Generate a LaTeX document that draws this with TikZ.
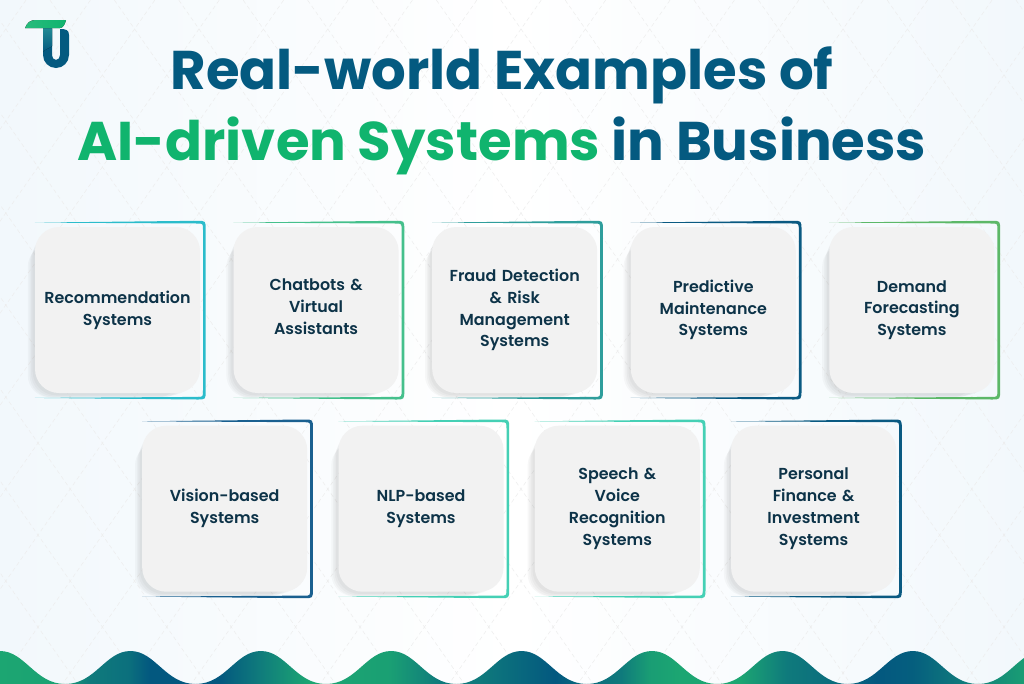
\documentclass[tikz,border=0pt]{standalone}
\usepackage{fontspec}
\setmainfont{Poppins}
\newfontfamily\cardfont{Poppins SemiBold}
\usepackage{xcolor}
\definecolor{tuBlue}{HTML}{045A80}
\definecolor{tuGreen}{HTML}{10B46E}
\definecolor{bgPale}{HTML}{F2F8FC}
\definecolor{cardBody}{HTML}{F2F2F2}
\definecolor{cardText}{HTML}{0D3348}
\definecolor{frameCyan}{HTML}{2BBCCB}
\definecolor{frameGreen}{HTML}{45C08C}
\definecolor{frameTeal}{HTML}{2F9E9C}
\definecolor{frameBlue}{HTML}{0A5A82}
\definecolor{frameNavy}{HTML}{1A6090}
\definecolor{frameLime}{HTML}{5CB868}
\definecolor{frameAqua}{HTML}{45D0B5}
\definecolor{waveA}{HTML}{1CA672}
\definecolor{waveB}{HTML}{0F7A7C}
\definecolor{waveC}{HTML}{03587F}
\usetikzlibrary{positioning}
\usetikzlibrary{shadows}
\pgfdeclarehorizontalshading{waveShade}{100bp}{
  color(0bp)=(waveA); color(25bp)=(waveA); color(27.9bp)=(waveA!90!waveB); color(29.4bp)=(waveB);
  color(31.25bp)=(waveB!70!waveC); color(32.3bp)=(waveC); color(35.7bp)=(waveC); color(37.6bp)=(waveB);
  color(40.1bp)=(waveA); color(44bp)=(waveA!85!waveB); color(46.5bp)=(waveB); color(48.4bp)=(waveB);
  color(52.1bp)=(waveC); color(53.3bp)=(waveC!50!waveB); color(55.3bp)=(waveB); color(56.7bp)=(waveA!80!waveB);
  color(58.2bp)=(waveA); color(61.1bp)=(waveA); color(63.4bp)=(waveB); color(65.7bp)=(waveB!60!waveC);
  color(67.8bp)=(waveC); color(69.6bp)=(waveC!80!waveB); color(71.9bp)=(waveB); color(75bp)=(waveA!80!waveB);
  color(100bp)=(waveA)}
\tikzstyle{softshadow} = [general shadow={fill=black!70, opacity=.04, #1}]
\tikzstyle{card} = [fill=cardBody, rounded corners=24pt, minimum width=165pt, minimum height=166pt,
  text width=152pt, align=center, text=cardText, font=\fontsize{15.9}{21.8}\selectfont\cardfont,
  softshadow={shadow xshift=-15pt, shadow yshift=-12pt, shadow scale=.92},
  softshadow={shadow xshift=-11pt, shadow yshift=-10pt, shadow scale=.94},
  softshadow={shadow xshift=-7.5pt, shadow yshift=-7pt, shadow scale=.96},
  softshadow={shadow xshift=-4pt, shadow yshift=-4pt, shadow scale=.98}]
\begin{document}
\begin{tikzpicture}[x=1pt, y=-1pt, node distance=198.6pt]
    \useasboundingbox (0,0) rectangle (1024,683);
    \fill[left color=bgPale, right color=bgPale, middle color=white] (0,0) rectangle (1024,683);
    % lattice
    \begin{scope}
        \clip (0,0) rectangle (1024,683);
        \foreach \k in {-20,...,26}
        {
            \draw[black!7, dash pattern=on 4pt off 3pt, line width=.5pt] (38+64.4*\k,-17) -- ++(32.2*16,46*16);
            \draw[black!7, dash pattern=on 4pt off 3pt, line width=.5pt] (38+64.4*\k,-17) -- ++(-32.2*16,46*16);
        }
    \end{scope}
    % waves
    \begin{scope}
        \clip (-65,684) \foreach \w in {0,...,8}
            { .. controls (-35+130.4*\w,684) and (-25+130.4*\w,651) .. (130.4*\w,651)
              .. controls (25+130.4*\w,651) and (35+130.4*\w,684) .. (65.2+130.4*\w,684) };
        \node[inner sep=0pt, minimum width=1024pt, minimum height=40pt, shading=waveShade, anchor=north west] (band) at (0,648) {};
    \end{scope}
    % logo
    \fill[tuBlue] (43,29) -- (43,55) arc[start angle=180, end angle=360, x radius=13, y radius=-13] -- (69,35)
        .. controls (69,30) and (66,29) .. (60,29)
        -- (60,55) arc[start angle=360, end angle=180, x radius=4, y radius=-5] -- (52,29) -- cycle;
    \fill[top color=frameTeal!70!tuBlue, bottom color=tuBlue] (43,28) -- (43,52) .. controls (45,49) and (50,48) .. (52,46) -- (52,28) -- cycle;
    \fill[left color=tuGreen!90!white, right color=tuGreen] (25,28) .. controls (27,23) and (30,20) .. (36,20) -- (66,20) .. controls (65,24) and (63,28) .. (60,28) -- cycle;
    % title
    \node[font=\fontsize{54.5}{60}\selectfont\bfseries, text=tuBlue] (titleTop) at (502,75) {Real-world Examples of};
    \node[font=\fontsize{54.5}{60}\selectfont\bfseries, text=tuBlue] (titleBottom) at (502,146) {\textcolor{tuGreen}{AI-driven Systems} in Business};
    % cards
    \node[card] (recommend) at (117.5,310) {Recommendation\\Systems};
    \node[card, right of=recommend] (chatbots) {Chatbots \&\\Virtual\\Assistants\vspace*{7pt}};
    \node[card, right of=chatbots] (fraud) {Fraud Detection\\\& Risk\\Management\\Systems};
    \node[card, right of=fraud] (predictive) {Predictive\\Maintenance\\Systems};
    \node[card, right of=predictive] (demand) {Demand\\Forecasting\\Systems};
    \node[card, node distance=196.3pt] (vision) at (224.7,508.7) {Vision-based\\Systems};
    \node[card, node distance=196.3pt, right of=vision] (nlp) {NLP-based\\Systems};
    \node[card, node distance=196.3pt, right of=nlp] (speech) {Speech \&\\Voice\\Recognition\\Systems};
    \node[card, node distance=196.3pt, right of=speech] (finance) {Personal\\Finance \&\\Investment\\Systems};
    % frames
    \foreach \c/\f in {recommend/frameCyan, chatbots/frameGreen, fraud/frameTeal, predictive/frameBlue, demand/frameLime,
        vision/frameNavy, nlp/frameAqua, speech/frameAqua, finance/frameBlue}
    {
        \fill[\f] ([yshift=4.2pt]\c.north west) -- ([xshift=-3pt,yshift=6pt]\c.north east)
            .. controls ([xshift=5.5pt,yshift=6pt]\c.north east) .. ([xshift=5.5pt,yshift=-3pt]\c.north east)
            -- ([xshift=5.5pt,yshift=3pt]\c.south east)
            .. controls ([xshift=5.5pt,yshift=-6.3pt]\c.south east) .. ([xshift=-3pt,yshift=-6.3pt]\c.south east)
            -- ([yshift=-4.7pt]\c.south west) -- ([xshift=-3pt,yshift=-3.7pt]\c.south east)
            .. controls ([xshift=2.8pt,yshift=-3.7pt]\c.south east) .. ([xshift=2.8pt,yshift=3pt]\c.south east)
            -- ([xshift=2.8pt,yshift=-3pt]\c.north east)
            .. controls ([xshift=2.8pt,yshift=3.3pt]\c.north east) .. ([xshift=-3pt,yshift=3.3pt]\c.north east) -- cycle;
    }
\end{tikzpicture}
\end{document}
